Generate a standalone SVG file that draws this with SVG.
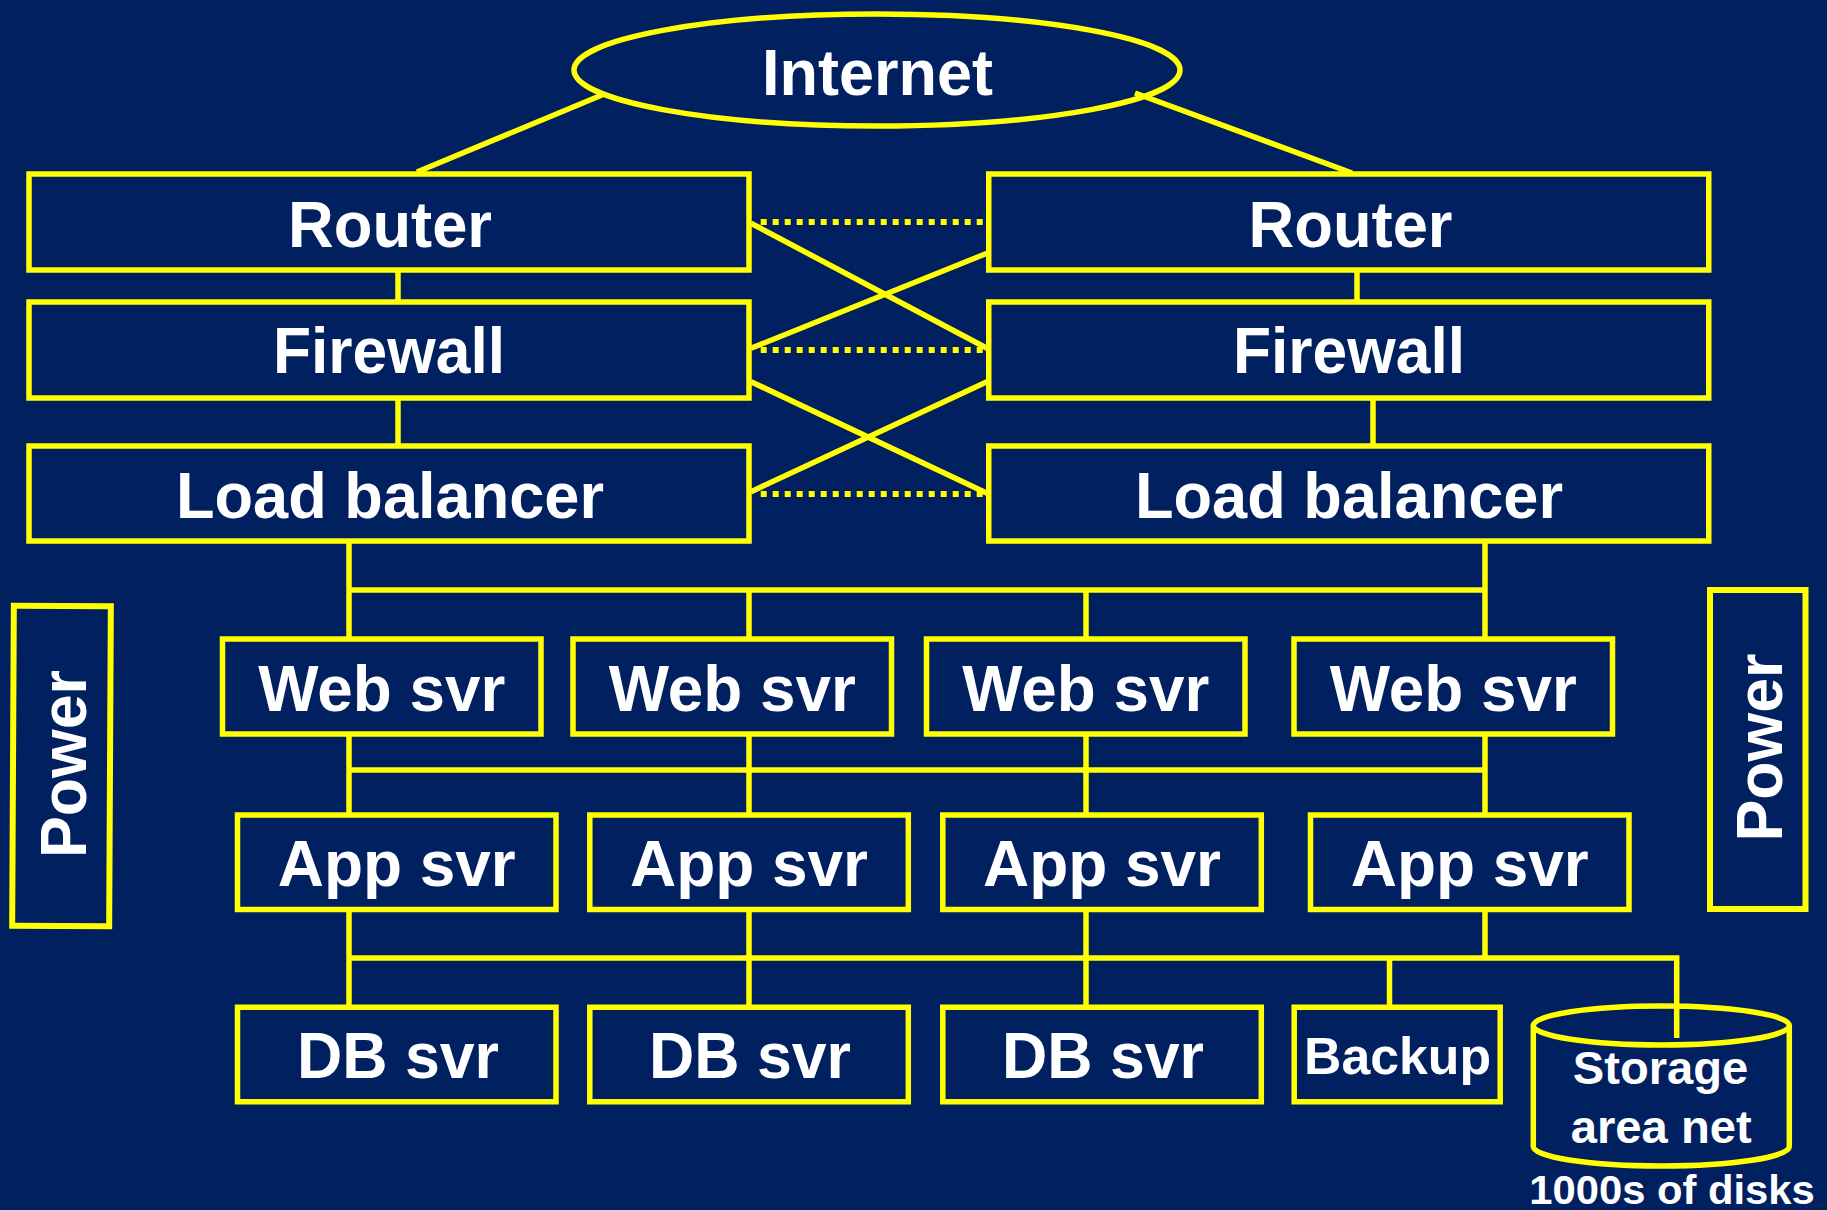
<svg xmlns="http://www.w3.org/2000/svg" width="1827" height="1210" viewBox="0 0 1827 1210">
  <style>
    .box { fill: #002060; stroke: #FFFF00; stroke-width: 5.5; }
    .pwr { fill: #002060; stroke: #FFFF00; stroke-width: 6; }
    .wire { fill: none; stroke: #FFFF00; stroke-width: 5.5; stroke-linecap: butt; }
    .dot { fill: none; stroke: #FFFF00; stroke-width: 6; stroke-dasharray: 6 6; }
    .lbl { font-family: "Liberation Sans", Arial, "DejaVu Sans", sans-serif; font-weight: bold; fill: #FFFFFF; text-anchor: middle; }
    .big { font-size: 64px; }
  </style>
  <rect x="0" y="0" width="1827" height="1210" fill="#002060"/>

  <!-- nodes -->
  <g id="internet">
    <ellipse class="box" cx="877" cy="70" rx="303" ry="56"/>
    <text class="lbl big" x="877.5" y="94.5" textLength="231" lengthAdjust="spacingAndGlyphs">Internet</text>
  </g>
  <g id="router-left">
    <rect class="box" x="29" y="174" width="720" height="96"/>
    <text class="lbl big" x="390" y="246.5" textLength="204" lengthAdjust="spacingAndGlyphs">Router</text>
  </g>
  <g id="router-right">
    <rect class="box" x="988.75" y="174" width="720" height="96"/>
    <text class="lbl big" x="1350.5" y="246.5" textLength="204" lengthAdjust="spacingAndGlyphs">Router</text>
  </g>
  <g id="firewall-left">
    <rect class="box" x="29" y="302" width="720" height="96"/>
    <text class="lbl big" x="389" y="373" textLength="232" lengthAdjust="spacingAndGlyphs">Firewall</text>
  </g>
  <g id="firewall-right">
    <rect class="box" x="988.75" y="302" width="720" height="96"/>
    <text class="lbl big" x="1349" y="373" textLength="232" lengthAdjust="spacingAndGlyphs">Firewall</text>
  </g>
  <g id="lb-left">
    <rect class="box" x="29" y="446" width="720" height="95"/>
    <text class="lbl big" x="390" y="518" textLength="428" lengthAdjust="spacingAndGlyphs">Load balancer</text>
  </g>
  <g id="lb-right">
    <rect class="box" x="988.75" y="446" width="720" height="95"/>
    <text class="lbl big" x="1349" y="518" textLength="428" lengthAdjust="spacingAndGlyphs">Load balancer</text>
  </g>

  <g id="web-1">
    <rect class="box" x="222.5" y="639" width="318.5" height="95"/>
    <text class="lbl big" x="381.75" y="711" textLength="247" lengthAdjust="spacingAndGlyphs">Web svr</text>
  </g>
  <g id="web-2">
    <rect class="box" x="573" y="639" width="318.5" height="95"/>
    <text class="lbl big" x="732.25" y="711" textLength="247" lengthAdjust="spacingAndGlyphs">Web svr</text>
  </g>
  <g id="web-3">
    <rect class="box" x="926.5" y="639" width="318.5" height="95"/>
    <text class="lbl big" x="1085.75" y="711" textLength="247" lengthAdjust="spacingAndGlyphs">Web svr</text>
  </g>
  <g id="web-4">
    <rect class="box" x="1294" y="639" width="318.5" height="95"/>
    <text class="lbl big" x="1453.25" y="711" textLength="247" lengthAdjust="spacingAndGlyphs">Web svr</text>
  </g>

  <g id="app-1">
    <rect class="box" x="237.5" y="815" width="318.5" height="94.5"/>
    <text class="lbl big" x="396.75" y="886" textLength="238" lengthAdjust="spacingAndGlyphs">App svr</text>
  </g>
  <g id="app-2">
    <rect class="box" x="589.8" y="815" width="318.5" height="94.5"/>
    <text class="lbl big" x="749" y="886" textLength="238" lengthAdjust="spacingAndGlyphs">App svr</text>
  </g>
  <g id="app-3">
    <rect class="box" x="942.8" y="815" width="318.5" height="94.5"/>
    <text class="lbl big" x="1102" y="886" textLength="238" lengthAdjust="spacingAndGlyphs">App svr</text>
  </g>
  <g id="app-4">
    <rect class="box" x="1310.5" y="815" width="318.5" height="94.5"/>
    <text class="lbl big" x="1469.75" y="886" textLength="238" lengthAdjust="spacingAndGlyphs">App svr</text>
  </g>

  <g id="db-1">
    <rect class="box" x="237.5" y="1007.25" width="318.5" height="94.5"/>
    <text class="lbl big" x="398" y="1077.5" textLength="202" lengthAdjust="spacingAndGlyphs">DB svr</text>
  </g>
  <g id="db-2">
    <rect class="box" x="589.8" y="1007.25" width="318.5" height="94.5"/>
    <text class="lbl big" x="750" y="1077.5" textLength="202" lengthAdjust="spacingAndGlyphs">DB svr</text>
  </g>
  <g id="db-3">
    <rect class="box" x="942.8" y="1007.25" width="318.5" height="94.5"/>
    <text class="lbl big" x="1103" y="1077.5" textLength="202" lengthAdjust="spacingAndGlyphs">DB svr</text>
  </g>
  <g id="backup">
    <rect class="box" x="1294.2" y="1007.25" width="206" height="94.5"/>
    <text class="lbl" x="1397.5" y="1074" font-size="52" textLength="187" lengthAdjust="spacingAndGlyphs">Backup</text>
  </g>
  <g id="storage">
    <path class="box" d="M1533.3 1025.5 L1533.3 1146.5 A128 19.5 0 0 0 1789.3 1146.5 L1789.3 1025.5"/>
    <ellipse class="box" cx="1661.3" cy="1025.5" rx="128" ry="19.5"/>
    <text class="lbl" x="1660.5" y="1084" font-size="46" textLength="175.5" lengthAdjust="spacingAndGlyphs">Storage</text>
    <text class="lbl" x="1661.2" y="1143.3" font-size="46" textLength="181" lengthAdjust="spacingAndGlyphs">area net</text>
    <text class="lbl" x="1672" y="1203.5" font-size="41" textLength="285.5" lengthAdjust="spacingAndGlyphs">1000s of disks</text>
  </g>

  <g id="power-left">
    <rect class="pwr" x="13" y="606" width="97" height="320" transform="rotate(0.3 61.5 766)"/>
    <text class="lbl" font-size="65" transform="translate(86 764) rotate(-90)" textLength="188" lengthAdjust="spacingAndGlyphs">Power</text>
  </g>
  <g id="power-right">
    <rect class="pwr" x="1710" y="590" width="95.5" height="319"/>
    <text class="lbl" font-size="65" transform="translate(1782.3 747.5) rotate(-90)" textLength="188" lengthAdjust="spacingAndGlyphs">Power</text>
  </g>

  <!-- connectors -->
  <g id="connectors">
    <!-- internet uplinks -->
    <line class="wire" x1="602" y1="95" x2="417" y2="172"/>
    <line class="wire" x1="1135" y1="93" x2="1352" y2="173"/>
    <!-- left stack -->
    <line class="wire" x1="398" y1="270" x2="398" y2="302"/>
    <line class="wire" x1="398" y1="398" x2="398" y2="446"/>
    <!-- right stack -->
    <line class="wire" x1="1357" y1="270" x2="1357" y2="302"/>
    <line class="wire" x1="1373" y1="398" x2="1373" y2="446"/>
    <!-- redundant peer links -->
    <line class="dot" x1="760.7" y1="222" x2="982.7" y2="222"/>
    <line class="dot" x1="760.7" y1="350" x2="982.7" y2="350"/>
    <line class="dot" x1="760.7" y1="494" x2="982.7" y2="494"/>
    <!-- cross links -->
    <line class="wire" x1="751" y1="223.3" x2="987" y2="348.3"/>
    <line class="wire" x1="751" y1="348.3" x2="987" y2="253.3"/>
    <line class="wire" x1="751" y1="381.7" x2="987" y2="493.3"/>
    <line class="wire" x1="751" y1="491.7" x2="987" y2="381.7"/>
    <!-- web tier bus -->
    <line class="wire" x1="349" y1="541" x2="349" y2="639"/>
    <line class="wire" x1="1485" y1="541" x2="1485" y2="639"/>
    <line class="wire" x1="349" y1="590" x2="1485" y2="590"/>
    <line class="wire" x1="749" y1="590" x2="749" y2="639"/>
    <line class="wire" x1="1086" y1="590" x2="1086" y2="639"/>
    <!-- app tier bus -->
    <line class="wire" x1="349" y1="734" x2="349" y2="815"/>
    <line class="wire" x1="749" y1="734" x2="749" y2="815"/>
    <line class="wire" x1="1086" y1="734" x2="1086" y2="815"/>
    <line class="wire" x1="1485" y1="734" x2="1485" y2="815"/>
    <line class="wire" x1="349" y1="770" x2="1485" y2="770"/>
    <!-- data tier bus -->
    <line class="wire" x1="349" y1="909.5" x2="349" y2="1007.25"/>
    <line class="wire" x1="749" y1="909.5" x2="749" y2="1007.25"/>
    <line class="wire" x1="1086" y1="909.5" x2="1086" y2="1007.25"/>
    <line class="wire" x1="1485" y1="909.5" x2="1485" y2="958"/>
    <line class="wire" x1="1389.5" y1="958" x2="1389.5" y2="1007.25"/>
    <polyline class="wire" points="349,958 1676.7,958 1676.7,1038"/>
  </g>
</svg>
